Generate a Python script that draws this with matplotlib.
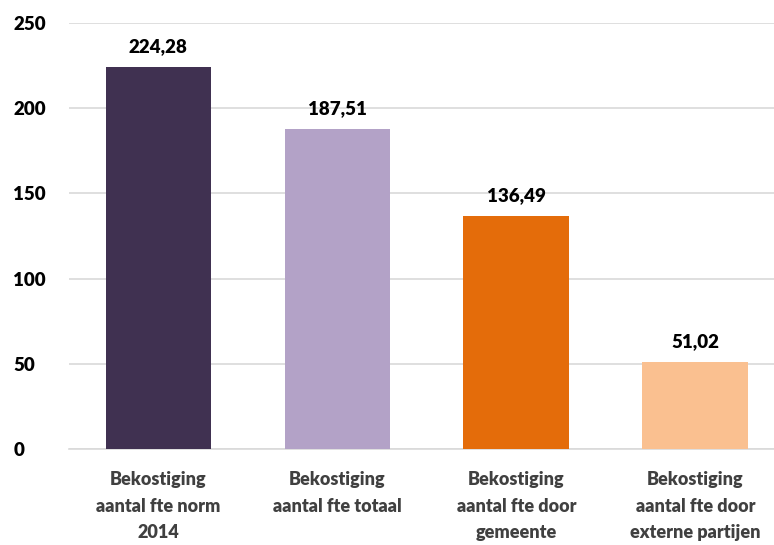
import matplotlib
matplotlib.use("Agg")
import matplotlib.pyplot as plt

categories = ["Bekostiging\naantal fte norm\n2014", "Bekostiging\naantal fte totaal",
              "Bekostiging\naantal fte door\ngemeente", "Bekostiging\naantal fte door\nexterne partijen"]
values = [224.28, 187.51, 136.49, 51.02]
colors = ["#403151", "#B3A2C7", "#E46C0A", "#FAC090"]
yticks = [0, 50, 100, 150, 200, 250]

plt.rcParams['font.family'] = ['Lato', 'DejaVu Sans']

fig = plt.figure(figsize=(7.74, 5.45), dpi=100)
ax = fig.add_axes([0.089, 0.176, 0.911, 0.782])
x = list(range(len(categories)))
bars = ax.bar(x, values, width=0.59, color=colors, zorder=3)
for xi, v in zip(x, values):
    ax.text(xi, v + 7, f"{v:.2f}".replace(".", ","), ha="center", va="bottom",
            fontsize=13.5, fontweight="heavy", color="black")
ax.set_ylim(0, 250)
ax.set_xlim(-0.5, 3.44)
ax.set_yticks(yticks)
ax.set_yticklabels([str(t) for t in yticks], fontsize=13.5, fontweight="heavy")
ax.yaxis.grid(True, color="#D9D9D9", linewidth=1.2, zorder=0)
ax.set_xticks(x)
ax.set_xticklabels(categories, fontsize=13, fontweight="heavy", color="#404040", linespacing=1.68)
ax.tick_params(axis="both", length=0)
ax.tick_params(axis="x", pad=16)
ax.tick_params(axis="y", pad=40)
for lbl in ax.get_yticklabels():
    lbl.set_horizontalalignment("left")
for s in ["top", "right", "left"]:
    ax.spines[s].set_visible(False)
ax.spines["bottom"].set_color("#D9D9D9")
ax.spines["bottom"].set_linewidth(1.2)
fig.savefig("out.png", dpi=100)
